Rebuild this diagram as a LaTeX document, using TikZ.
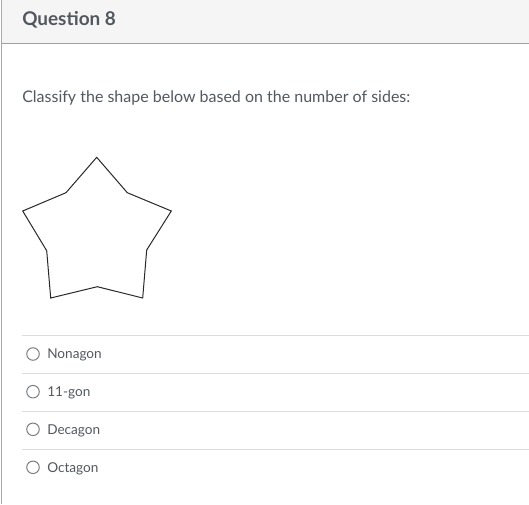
\documentclass[tikz,border=0pt]{standalone}
\usepackage{fontspec}
\setmainfont{Lato}
\usepackage{tikz}
\usetikzlibrary{calc,shapes.geometric}

\begin{document}
\begin{tikzpicture}[x=0.75pt,y=0.75pt,yscale=-1,xscale=1,
  txt/.style={anchor=base west,inner sep=0pt,text={rgb, 255:red, 82; green, 88; blue, 94 }},
  radio/.style={circle,draw={rgb, 255:red, 120; green, 124; blue, 128 },line width=0.75pt,minimum size=9.4pt,inner sep=0pt},
  sepline/.style={draw={rgb, 255:red, 221; green, 221; blue, 221 },line width=0.75pt}]
\useasboundingbox (0,0) rectangle (529,504);

%Shape: Rectangle [id:header]
\fill [color={rgb, 255:red, 245; green, 245; blue, 245 }] (1.5,0) rectangle (529,43) ;
%Straight Lines [id:headerline]
\draw [color={rgb, 255:red, 160; green, 160; blue, 160 },line width=0.75pt] (1.5,43) -- (529,43) ;
%Straight Lines [id:leftborder]
\draw [color={rgb, 255:red, 170; green, 170; blue, 170 },line width=0.75pt] (1.5,0) -- (1.5,504) ;

% Text Node
\draw (22,25.3) node (title) [txt,font=\fontsize{14.2}{17}\selectfont\bfseries] {Question 8};
% Text Node
\draw (22,102) node (prompt) [txt,font=\fontsize{12}{14}\selectfont] {Classify the shape below based on the number of sides:};

%Shape: Polygon [id:star]
\draw [color={rgb, 255:red, 40; green, 40; blue, 40 },line width=0.75pt] (96.7,157.3) -- (127.3,192.7) -- (171.3,211) -- (146.7,250) -- (142.7,298) -- (97.3,286.7) -- (50.7,298) -- (46.7,250.7) -- (22.7,211) -- (66,192.7) -- cycle ;

%Straight Lines [id:sep1]
\draw [sepline] (22,335) -- (529,335) ;
%Straight Lines [id:sep2]
\draw [sepline] (22,373.3) -- (529,373.3) ;
%Straight Lines [id:sep3]
\draw [sepline] (22,411) -- (529,411) ;
%Straight Lines [id:sep4]
\draw [sepline] (22,449) -- (529,449) ;

% Radio buttons
\draw (33,354) node (r1) [radio] {};
\draw (33,391.7) node (r2) [radio] {};
\draw (33,429.3) node (r3) [radio] {};
\draw (33,467.3) node (r4) [radio] {};

% Text Node
\draw (47,358.7) node (o1) [txt,font=\fontsize{10.2}{12}\selectfont] {Nonagon};
% Text Node
\draw (47,396.4) node (o2) [txt,font=\fontsize{10.2}{12}\selectfont] {11-gon};
% Text Node
\draw (47,434) node (o3) [txt,font=\fontsize{10.2}{12}\selectfont] {Decagon};
% Text Node
\draw (47,472) node (o4) [txt,font=\fontsize{10.2}{12}\selectfont] {Octagon};

\end{tikzpicture}
\end{document}
